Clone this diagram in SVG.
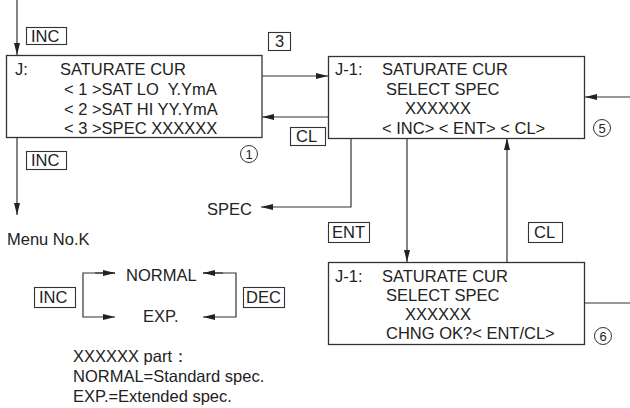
<svg xmlns="http://www.w3.org/2000/svg" width="630" height="408" viewBox="0 0 630 408">
<style>
text{font-family:"Liberation Sans",Arial,sans-serif;font-size:16.5px;fill:#222;white-space:pre}
.box{fill:#fff;stroke:#333;stroke-width:1.3}
.key{fill:#fff;stroke:#333;stroke-width:1.1}
.ln{fill:none;stroke:#333;stroke-width:1.2}
.circ{fill:none;stroke:#333;stroke-width:1}
.num{font-size:13px;text-anchor:middle}
</style>
<defs>
<marker id="ah" viewBox="0 0 12 6" refX="12" refY="3" markerWidth="12" markerHeight="6" markerUnits="userSpaceOnUse" orient="auto">
<path d="M0,0 L12,3 L0,6 Z" fill="#222"/>
</marker>
</defs>
<rect width="630" height="408" fill="#fff"/>
<g id="connectors">
<path class="ln" d="M17,0 V55" marker-end="url(#ah)"/>
<path class="ln" d="M17,137 V215" marker-end="url(#ah)"/>
<path class="ln" d="M262,76 H328" marker-end="url(#ah)"/>
<path class="ln" d="M328,117 H262" marker-end="url(#ah)"/>
<path class="ln" d="M630,97 H585" marker-end="url(#ah)"/>
<path class="ln" d="M351,138 V207 H261" marker-end="url(#ah)"/>
<path class="ln" d="M407,138 V262" marker-end="url(#ah)"/>
<path class="ln" d="M507,262 V138" marker-end="url(#ah)"/>
<path class="ln" d="M584,303 H630"/>
<path class="ln" d="M115,273 H83 V317 H115" marker-end="url(#ah)"/>
<path class="ln" d="M95,273 H115" marker-end="url(#ah)"/>
<path class="ln" d="M203,273 H236 V317 H203" marker-end="url(#ah)"/>
<path class="ln" d="M223,273 H203" marker-end="url(#ah)"/>
</g>
<g id="node-j">
<rect class="box" x="6.5" y="55.5" width="255.5" height="82"/>
<text x="15" y="75">J:</text>
<text x="60" y="75">SATURATE CUR</text>
<text x="64" y="95">&lt; 1 &gt;SAT LO  Y.YmA</text>
<text x="64" y="115">&lt; 2 &gt;SAT HI YY.YmA</text>
<text x="64" y="134">&lt; 3 &gt;SPEC XXXXXX</text>
</g>
<g id="node-j1-select">
<rect class="box" x="328.5" y="56.5" width="256" height="82"/>
<text x="335" y="75">J-1:</text>
<text x="382" y="75">SATURATE CUR</text>
<text x="386" y="95">SELECT SPEC</text>
<text x="405" y="114">XXXXXX</text>
<text x="382" y="134">&lt; INC&gt; &lt; ENT&gt; &lt; CL&gt;</text>
</g>
<g id="node-j1-confirm">
<rect class="box" x="328.5" y="262.5" width="256" height="82"/>
<text x="335" y="282">J-1:</text>
<text x="382" y="282">SATURATE CUR</text>
<text x="386" y="301">SELECT SPEC</text>
<text x="405" y="320">XXXXXX</text>
<text x="386" y="339">CHNG OK?&lt; ENT/CL&gt;</text>
</g>
<g id="key-inc-top">
<rect class="key" x="26.5" y="27.5" width="40" height="17"/>
<text x="31" y="42">INC</text>
</g>
<g id="key-3">
<rect class="key" x="268.5" y="32.5" width="22" height="18"/>
<text x="275" y="47">3</text>
</g>
<g id="key-cl-left">
<rect class="key" x="290.5" y="127.5" width="35" height="18"/>
<text x="296" y="142">CL</text>
</g>
<g id="key-inc-bottom">
<rect class="key" x="26.5" y="151.5" width="40" height="18"/>
<text x="31" y="166">INC</text>
</g>
<g id="key-ent">
<rect class="key" x="328.5" y="222.5" width="41" height="20"/>
<text x="332" y="238">ENT</text>
</g>
<g id="key-cl-right">
<rect class="key" x="528.5" y="222.5" width="34" height="20"/>
<text x="534" y="238">CL</text>
</g>
<g id="key-inc-mode">
<rect class="key" x="34.5" y="287.5" width="41" height="20"/>
<text x="39" y="303">INC</text>
</g>
<g id="key-dec">
<rect class="key" x="243.5" y="287.5" width="41" height="20"/>
<text x="246" y="303">DEC</text>
</g>
<g id="circle-1">
<circle class="circ" cx="249" cy="154" r="8.5"/>
<text class="num" x="249" y="158.7">1</text>
</g>
<g id="circle-5">
<circle class="circ" cx="602" cy="128" r="8.5"/>
<text class="num" x="602" y="132.7">5</text>
</g>
<g id="circle-6">
<circle class="circ" cx="603" cy="336" r="8.5"/>
<text class="num" x="603" y="340.7">6</text>
</g>
<g id="label-spec"><text x="207" y="215">SPEC</text></g>
<g id="label-menu"><text x="7" y="245">Menu No.K</text></g>
<g id="label-normal"><text x="126" y="281">NORMAL</text></g>
<g id="label-exp"><text x="143" y="322">EXP.</text></g>
<g id="footnote">
<text x="73" y="362">XXXXXX part：</text>
<text x="73" y="382">NORMAL=Standard spec.</text>
<text x="73" y="402">EXP.=Extended spec.</text>
</g>
</svg>
